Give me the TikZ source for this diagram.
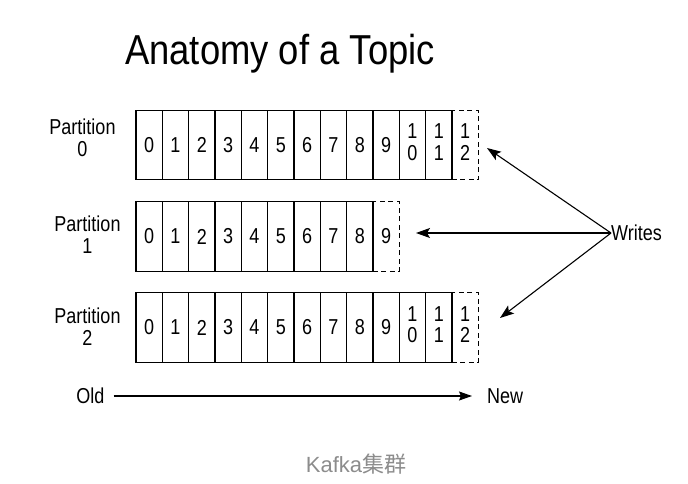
\documentclass[tikz,border=0pt]{standalone}
\usepackage{fontspec}
\usepackage{graphicx}
\setmainfont{Liberation Sans}
\newfontfamily\cjk{Noto Sans CJK SC}
\usetikzlibrary{arrows.meta}
\definecolor{capgray}{HTML}{8C8C8C}
\newcommand\sy[1]{\scalebox{1}[1.2]{#1}}
\newcommand\stk[2]{\sy{\begin{tabular}{@{}c@{}}#1\\[0pt]#2\end{tabular}}}
\tikzset{
  cell/.style={draw, line width=1.1pt, minimum width=26.33pt, minimum height=69.5pt, inner sep=0pt, align=center,
    font=\fontsize{18}{18}\selectfont},
  newcell/.style={cell, dashed, dash pattern=on 5pt off 3.5pt},
  plabel/.style={inner sep=0pt, font=\fontsize{18}{18}\selectfont},
  txt/.style={font=\fontsize{18}{20}\selectfont, inner sep=0pt},
  wr/.style={line width=1.1pt, -{Stealth[length=14pt,width=10pt,inset=3pt]}},
}
\begin{document}
\begin{tikzpicture}[x=1pt,y=-1pt]
\useasboundingbox (0,0) rectangle (688,484);
\node[font=\fontsize{36.4}{40}\selectfont, inner sep=0pt] (title) at (280,54) {\scalebox{1}[1.15]{Anatomy of a Topic}};
% Partition 0
\foreach \i in {0,...,9} { \node[cell] (a\i) at ({136+13.165+26.33*\i},145) {\sy{\i}}; }
\node[cell] (a10) at ({136+13.165+26.33*10},145) {\stk{1}{0}};
\node[cell] (a11) at ({136+13.165+26.33*11},145) {\stk{1}{1}};
\node[newcell] (a12) at ({136+13.165+26.33*12},145) {\stk{1}{2}};
% Partition 1
\foreach \i in {0,...,8} { \node[cell] (b\i) at ({136+13.165+26.33*\i},236.5) {\sy{\i}}; }
\node[newcell] (b9) at ({136+13.165+26.33*9},236.5) {\sy{9}};
% Partition 2
\foreach \i in {0,...,9} { \node[cell] (c\i) at ({136+13.165+26.33*\i},327.5) {\sy{\i}}; }
\node[cell] (c10) at ({136+13.165+26.33*10},327.5) {\stk{1}{0}};
\node[cell] (c11) at ({136+13.165+26.33*11},327.5) {\stk{1}{1}};
\node[newcell] (c12) at ({136+13.165+26.33*12},327.5) {\stk{1}{2}};
% labels
\node[plabel] (p0) at (82.5,141) {\sy{\begin{tabular}{@{}c@{}}Partition\\[0.3pt]0\end{tabular}}};
\node[plabel] (p1) at (87.5,238) {\sy{\begin{tabular}{@{}c@{}}Partition\\[0.3pt]1\end{tabular}}};
\node[plabel] (p2) at (87.5,330) {\sy{\begin{tabular}{@{}c@{}}Partition\\[0.3pt]2\end{tabular}}};
% writes
\node[txt, anchor=west] (w) at (611,233) {\sy{Writes}};
\coordinate (t0) at (487,148);
\coordinate (t1) at (416,233);
\coordinate (t2) at (500,318);
\draw[wr] (w.west) -- (t0);
\draw[wr] (w.west) -- (t1);
\draw[wr] (w.west) -- (t2);
% old/new
\node[txt, anchor=east] (old) at (104.5,396) {\sy{Old}};
\node[txt, anchor=west] (new) at (487,396) {\sy{New}};
\draw[line width=1.1pt, -{Stealth[length=13pt,width=9pt,inset=2pt]}, shorten <=9pt, shorten >=15pt] (old.east) -- (new.west);
% caption
\node[font=\fontsize{22}{26}\selectfont, text=capgray, inner sep=0pt] (cap) at (356,464) {Kafka{\cjk 集群}};
\end{tikzpicture}
\end{document}
